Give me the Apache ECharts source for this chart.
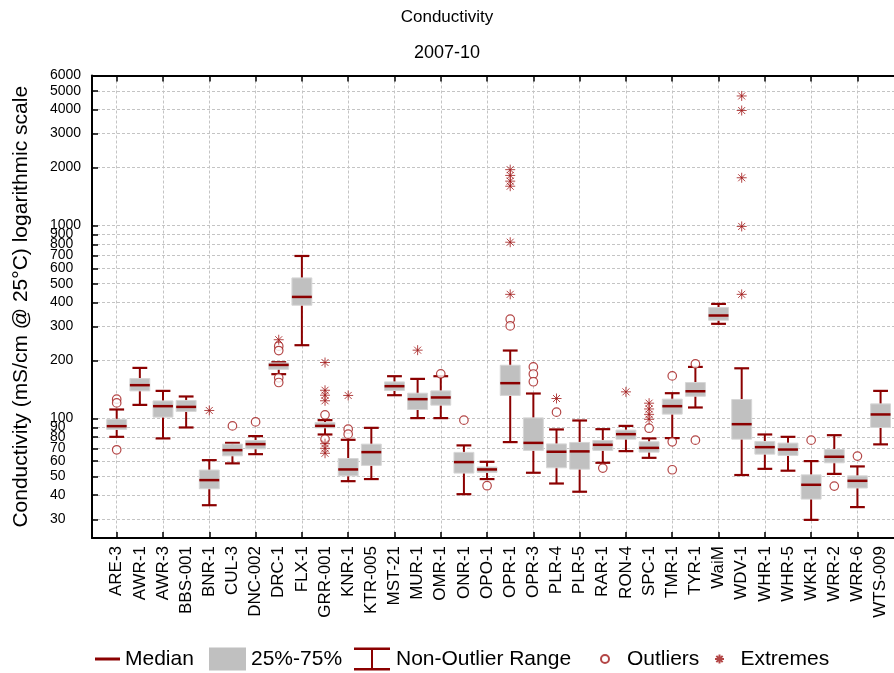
<!DOCTYPE html>
<html><head><meta charset="utf-8">
<script src="https://cdn.jsdelivr.net/npm/echarts@6/dist/echarts.min.js"></script>
<style>html,body{margin:0;padding:0;background:#fff}#c{width:894px;height:673px}</style>
</head><body><div id="c"></div><script>
const categories = ['ARE-3','AWR-1','AWR-3','BBS-001','BNR-1','CUL-3','DNC-002','DRC-1','FLX-1','GRR-001','KNR-1','KTR-005','MST-21','MUR-1','OMR-1','ONR-1','OPO-1','OPR-1','OPR-3','PLR-4','PLR-5','RAR-1','RON-4','SPC-1','TMR-1','TYR-1','WaiM','WDV-1','WHR-1','WHR-5','WKR-1','WRR-2','WRR-6','WTS-009'];
const whiskerLow  = [80.3,117.6,78.8,89.8,35.5,58.5,65.3,169.7,239.8,82.6,47.3,48.5,132,100.4,100.4,40.5,48.5,75.4,52.3,46,41.7,58.9,67.7,62.5,79.1,114,309.5,50.9,54.8,53.6,29.8,51.6,34.7,73.4];
const q1          = [87.7,139,101.6,108.7,43.2,64,69.6,179.9,386.4,89.4,50.4,57.1,139.7,111.3,117.2,52.1,52.5,131.6,68.3,55.5,54.6,68.3,78.1,66.9,105.3,130.4,323,78.1,65.3,64.3,38.2,58.9,43.6,89.8];
const median      = [91.2,148.8,115.8,114.8,47.9,68.5,73.6,189.5,426.7,91.5,54.4,66.9,147,125.9,128.5,59.4,54.4,152.4,74.7,67.2,67.5,73,82.9,70.4,115.8,138.4,341.8,93.4,71,69,45.3,63.3,47.5,104.9];
const q3          = [99,161,123.3,124,54,73.6,76.9,194,535.3,95.3,62,73.6,154.7,135.2,139,66.7,56,188.8,100.7,73.8,75.1,76.9,87,75.7,125.9,153.6,376,125.4,76,74.5,51,69,50.4,119];
const whiskerHigh = [111.3,182.9,139,130,60.8,74.7,81,195.7,695.7,98,77.5,89.4,165.6,160.4,165.6,72.5,59.6,225,134.7,87.7,97.6,88,91.5,78.8,135.2,185,392.5,182,82.6,80.3,60.1,81.9,56.4,139];
const outliers = [
  ['ARE-3',125.9],['ARE-3',120.4],['ARE-3',68.8],['CUL-3',91.5],['DNC-002',96],
  ['DRC-1',237],['DRC-1',225],['DRC-1',162.4],['DRC-1',153.6],
  ['GRR-001',104.4],['GRR-001',78],['KNR-1',88],['KNR-1',82.9],['OMR-1',170.4],
  ['ONR-1',98],['OPO-1',44.8],['OPR-1',327],['OPR-1',302],
  ['OPR-3',185],['OPR-3',170],['OPR-3',155],['PLR-4',107.8],['RAR-1',55.3],['SPC-1',89],
  ['TMR-1',166.2],['TMR-1',75.7],['TMR-1',54.2],['TYR-1',191.8],['TYR-1',77.2],
  ['WKR-1',77.2],['WRR-2',44.6],['WRR-6',63.8]
];
const extremes = [
  ['BNR-1',110],['DRC-1',256],
  ['GRR-001',195],['GRR-001',140],['GRR-001',132],['GRR-001',123.5],['GRR-001',74],['GRR-001',70],['GRR-001',66],
  ['KNR-1',131.6],['MUR-1',226],
  ['OPR-1',1950],['OPR-1',1820],['OPR-1',1700],['OPR-1',1600],['OPR-1',820],['OPR-1',440],
  ['PLR-4',126.9],['RON-4',137.4],
  ['SPC-1',120],['SPC-1',112],['SPC-1',105],['SPC-1',99],
  ['WDV-1',4700],['WDV-1',3950],['WDV-1',1770],['WDV-1',990],['WDV-1',440]
];
const yTicks = [30,40,50,60,70,80,90,100,200,300,400,500,600,700,800,900,1000,2000,3000,4000,5000,6000];
const xTickIdx = categories.map((c,i)=>i).filter(i=>i%2===0);

const FONT = "'Liberation Sans', Arial, sans-serif";
const DARK = '#8b0000';
const MARK = '#a01818';
const GRID_LINE = {color:'#c4c4c4', type:[3,2], width:1};
const X_MIN = -1.067, X_MAX = 33.58;

const boxData = categories.map((c,i)=>[i, whiskerLow[i], q1[i], median[i], q3[i], whiskerHigh[i]]);
const outlierData = outliers.map(([c,v])=>[categories.indexOf(c), v]);
const extremeData = extremes.map(([c,v])=>[categories.indexOf(c), v]);
const ASTER = 'path://M0,5H10M5,0V10M1.5,1.5L8.5,8.5M8.5,1.5L1.5,8.5';
const LEG_TEXT = {fontSize:21, color:'#000', fontFamily:FONT};

function halfW(api, i, v, frac){ return api.coord([i+frac, v])[0] - api.coord([i, v])[0]; }

const chart = echarts.init(document.getElementById('c'), null, {renderer:'canvas'});
chart.setOption({
  animation:false,
  backgroundColor:'#fff',
  textStyle:{fontFamily:FONT},
  title:[
    {text:'Conductivity', left:'center', top:9, padding:0, textStyle:{fontSize:17, fontWeight:'normal', color:'#000', fontFamily:FONT}},
    {text:'2007-10', left:'center', top:44, padding:0, textStyle:{fontSize:18, fontWeight:'normal', color:'#000', fontFamily:FONT}}
  ],
  grid:{left:92, right:0, top:75.5, bottom:135, containLabel:false, outerBoundsMode:'none'},
  xAxis:[{
    type:'value', min:X_MIN, max:X_MAX, position:'bottom',
    axisLine:{show:true, onZero:false, lineStyle:{color:'#000', width:2}},
    axisTick:{show:true, inside:true, length:6, customValues:xTickIdx, lineStyle:{color:'#000', width:1.5}},
    axisLabel:{customValues:categories.map((c,i)=>i), formatter:v=>categories[Math.round(v)], rotate:90, margin:8, fontSize:17, color:'#000', fontFamily:FONT},
    splitLine:{show:true, customValues:xTickIdx, lineStyle:GRID_LINE}
  },{
    type:'value', min:X_MIN, max:X_MAX, position:'top',
    axisLine:{show:true, onZero:false, lineStyle:{color:'#000', width:2}},
    axisTick:{show:true, inside:true, length:6, customValues:xTickIdx, lineStyle:{color:'#000', width:1.5}},
    axisLabel:{show:false}, splitLine:{show:false}
  }],
  yAxis:{
    type:'log', logBase:10, min:24, max:6000,
    name:'Conductivity (mS/cm @ 25°C) logarithmic scale', nameLocation:'middle', nameRotate:90, nameGap:60,
    nameTextStyle:{fontSize:21, color:'#000', fontFamily:FONT},
    axisLine:{show:true, onZero:false, lineStyle:{color:'#000', width:2}},
    axisTick:{show:true, inside:true, length:6, customValues:yTicks, lineStyle:{color:'#000', width:1.5}},
    axisLabel:{customValues:yTicks, align:'left', margin:42, fontSize:14, color:'#000', fontFamily:FONT, formatter:v=>String(Math.round(v))},
    splitLine:{show:true, customValues:yTicks, lineStyle:GRID_LINE}
  },
  legend:[
    {data:[{name:'Median', icon:'rect'}], left:95, top:648.5, itemWidth:25, itemHeight:3, padding:0, selectedMode:false, textStyle:LEG_TEXT},
    {data:[{name:'25%-75%', icon:'rect'}], left:209, top:647.5, itemWidth:37, itemHeight:23, padding:0, selectedMode:false, textStyle:LEG_TEXT},
    {data:[{name:'Non-Outlier Range', icon:'path://M0,0H36V2.4H0Z M17,2.4H19V20.6H17Z M0,20.6H36V23H0Z'}], left:354, top:647.5, itemWidth:38, itemHeight:23, padding:0, selectedMode:false, textStyle:LEG_TEXT},
    {data:[{name:'Outliers', icon:'circle'}], left:600, top:648.5, itemWidth:34, itemHeight:8, padding:0, selectedMode:false, textStyle:LEG_TEXT},
    {data:[{name:'Extremes', icon:ASTER}], left:714, top:648.5, itemWidth:32, itemHeight:9, padding:0, selectedMode:false, textStyle:LEG_TEXT}
  ],
  series:[
    {
      name:'Non-Outlier Range', type:'custom', data:boxData, encode:{x:0, y:[1,2,3,4,5]},
      itemStyle:{color:DARK},
      renderItem(params, api){
        const i = api.value(0);
        const lo = api.coord([i, api.value(1)]);
        const hi = api.coord([i, api.value(5)]);
        const hw = halfW(api, i, api.value(3), 0.32);
        const st = {stroke:DARK, lineWidth:2.2};
        return {type:'group', children:[
          {type:'line', shape:{x1:lo[0], y1:lo[1], x2:hi[0], y2:hi[1]}, style:{stroke:DARK, lineWidth:2}},
          {type:'line', shape:{x1:lo[0]-hw, y1:lo[1], x2:lo[0]+hw, y2:lo[1]}, style:st},
          {type:'line', shape:{x1:hi[0]-hw, y1:hi[1], x2:hi[0]+hw, y2:hi[1]}, style:st}
        ]};
      }
    },
    {
      name:'25%-75%', type:'custom', data:boxData, encode:{x:0, y:[1,2,3,4,5]},
      itemStyle:{color:'#c0c0c0'},
      renderItem(params, api){
        const i = api.value(0);
        const a = api.coord([i, api.value(2)]);
        const b = api.coord([i, api.value(4)]);
        const hw = halfW(api, i, api.value(3), 0.43);
        return {type:'rect', shape:{x:a[0]-hw, y:b[1], width:2*hw, height:a[1]-b[1]}, style:{fill:'#c0c0c0', stroke:'#d6d6d6', lineWidth:1}};
      }
    },
    {
      name:'Median', type:'custom', data:boxData, encode:{x:0, y:[1,2,3,4,5]},
      itemStyle:{color:DARK},
      renderItem(params, api){
        const i = api.value(0);
        const m = api.coord([i, api.value(3)]);
        const hw = halfW(api, i, api.value(3), 0.43);
        return {type:'line', shape:{x1:m[0]-hw, y1:m[1], x2:m[0]+hw, y2:m[1]}, style:{stroke:DARK, lineWidth:2.5}};
      }
    },
    {
      name:'Outliers', type:'scatter', data:outlierData, symbol:'circle', symbolSize:8.5,
      itemStyle:{color:'#fff', borderColor:MARK, borderWidth:1.2}, z:5
    },
    {
      name:'Extremes', type:'scatter', data:extremeData, symbol:ASTER, symbolSize:10,
      itemStyle:{color:'rgba(0,0,0,0)', borderColor:MARK, borderWidth:1}, z:5
    }
  ]
});
</script></body></html>
